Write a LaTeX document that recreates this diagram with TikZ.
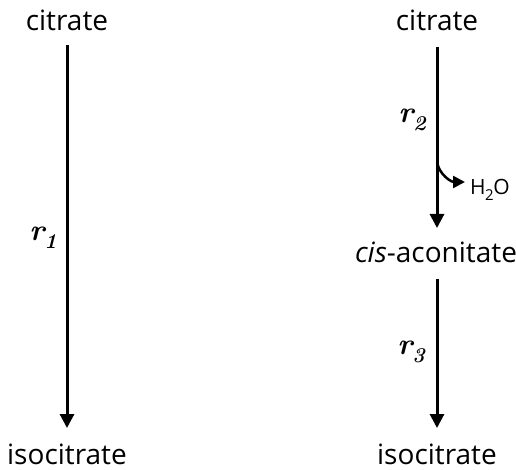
\documentclass[tikz,border=0pt]{standalone}
\usepackage{fontspec}
\setmainfont{Open Sans}
\newfontfamily\lmrfont{Latin Modern Roman}
\usetikzlibrary{arrows.meta}
\newcommand{\rlab}[1]{{\lmrfont\bfseries\itshape r\raisebox{-0.28em}{\fontsize{21}{24}\selectfont #1}}}
\begin{document}
\begin{tikzpicture}[x=1pt,y=-1pt,
  lbl/.style={font=\fontsize{28}{32}\selectfont, inner sep=0pt, anchor=base, text depth=0pt},
  rl/.style={font=\fontsize{30}{34}\selectfont, inner sep=0pt},
  small/.style={font=\fontsize{21}{25}\selectfont, inner sep=0pt},
  rxn/.style={line width=3pt, -{Triangle[width=14pt,length=14pt]}}]
\useasboundingbox (0,0) rectangle (516,470);
\node[lbl] (c1) at (67,31) {citrate};
\node[lbl] (i1) at (67,464) {isocitrate};
\node[lbl] (c2) at (437,31) {citrate};
\node[lbl] (a2) at (436,262) {\textit{cis}-aconitate};
\node[lbl] (i2) at (437,464) {isocitrate};
\coordinate (s1) at (67,45);
\coordinate (t1) at (67,428);
\coordinate (s2) at (437,47);
\coordinate (t2) at (437,228);
\coordinate (s3) at (437,279);
\coordinate (t3) at (437,428);
\draw[rxn] (s1) -- (t1);
\draw[rxn] (s2) -- (t2);
\draw[rxn] (s3) -- (t3);
\node[rl] (r1) at (43,238) {\rlab{1}};
\node[rl] (r2) at (412,120) {\rlab{2}};
\node[rl] (r3) at (411,352) {\rlab{3}};
\coordinate (b) at (437,162);
\node[small, anchor=west] (w) at (470,190) {H\kern-0.5pt\raisebox{-0.25em}{\fontsize{15}{18}\selectfont 2}\kern-0.5pt O};
\coordinate (wt) at (465,182);
\draw[line width=2.5pt, -{Triangle[width=12pt,length=12pt]}] (b) to[out=-80,in=180] (wt);
\end{tikzpicture}
\end{document}
